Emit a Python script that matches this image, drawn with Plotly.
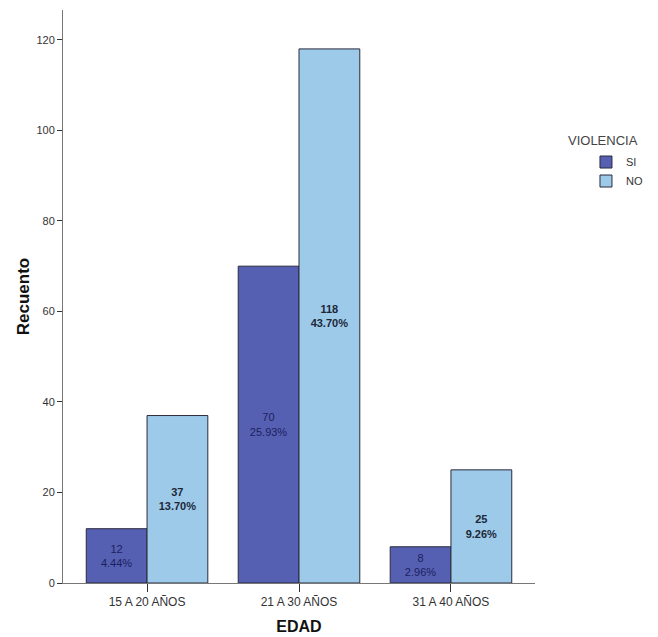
import plotly.graph_objects as go

categories = ["15 A 20 AÑOS", "21 A 30 AÑOS", "31 A 40 AÑOS"]
si_values = [12, 70, 8]
no_values = [37, 118, 25]
si_pct = ["4.44%", "25.93%", "2.96%"]
no_pct = ["13.70%", "43.70%", "9.26%"]
y_ticks = [0, 20, 40, 60, 80, 100, 120]

si_text = [f"{v}<br>{p}" for v, p in zip(si_values, si_pct)]
no_text = [f"<b>{v}<br>{p}</b>" for v, p in zip(no_values, no_pct)]

fig = go.Figure()
fig.add_trace(go.Bar(
    name="SI", x=categories, y=si_values, text=si_text,
    textposition="inside", insidetextanchor="middle", textangle=0,
    marker=dict(color="#5660B2", line=dict(color="#2a2a3a", width=1)),
    textfont=dict(family="Liberation Sans, Arial", size=11, color="#1c1f5e"),
))
fig.add_trace(go.Bar(
    name="NO", x=categories, y=no_values, text=no_text,
    textposition="inside", insidetextanchor="middle", textangle=0,
    marker=dict(color="#9ECAEA", line=dict(color="#2a2a3a", width=1)),
    textfont=dict(family="Liberation Sans, Arial", size=11, color="#1c2838"),
))

fig.add_annotation(
    text="VIOLENCIA", xref="paper", yref="paper",
    x=1.066, y=0.773, xanchor="left", yanchor="middle", showarrow=False,
    font=dict(size=13, color="#444444"),
)

fig.update_layout(
    barmode="group", bargap=0.2, bargroupgap=0,
    width=650, height=629,
    margin=dict(l=55, r=123, t=2, b=54),
    paper_bgcolor="white", plot_bgcolor="white",
    font=dict(family="Liberation Sans, Arial", size=11, color="#333333"),
    uniformtext=dict(mode="show", minsize=11),
    legend=dict(
        x=1.108, y=0.76, xanchor="left", yanchor="top",
        font=dict(size=11, color="#333333"),
        itemwidth=30, tracegroupgap=0,
    ),
    xaxis=dict(
        range=[-0.553, 2.553], showline=True, linecolor="#777777", linewidth=1,
        ticks="outside", ticklen=8, tickcolor="#333333",
        tickfont=dict(size=12, color="#333333"),
        automargin=False,
        title=dict(text="<b>EDAD</b>", font=dict(size=16, color="#111111"), standoff=12),
    ),
    yaxis=dict(
        range=[0, 126.6], showline=True, linecolor="#777777", linewidth=1,
        showgrid=False, zeroline=False,
        tickvals=y_ticks, ticks="outside", ticklen=5, tickcolor="#333333",
        tickfont=dict(size=11, color="#333333"),
        automargin=False,
        title=dict(text="<b>Recuento</b>", font=dict(size=17, color="#111111"), standoff=2),
    ),
)

fig.write_html("out.html")
